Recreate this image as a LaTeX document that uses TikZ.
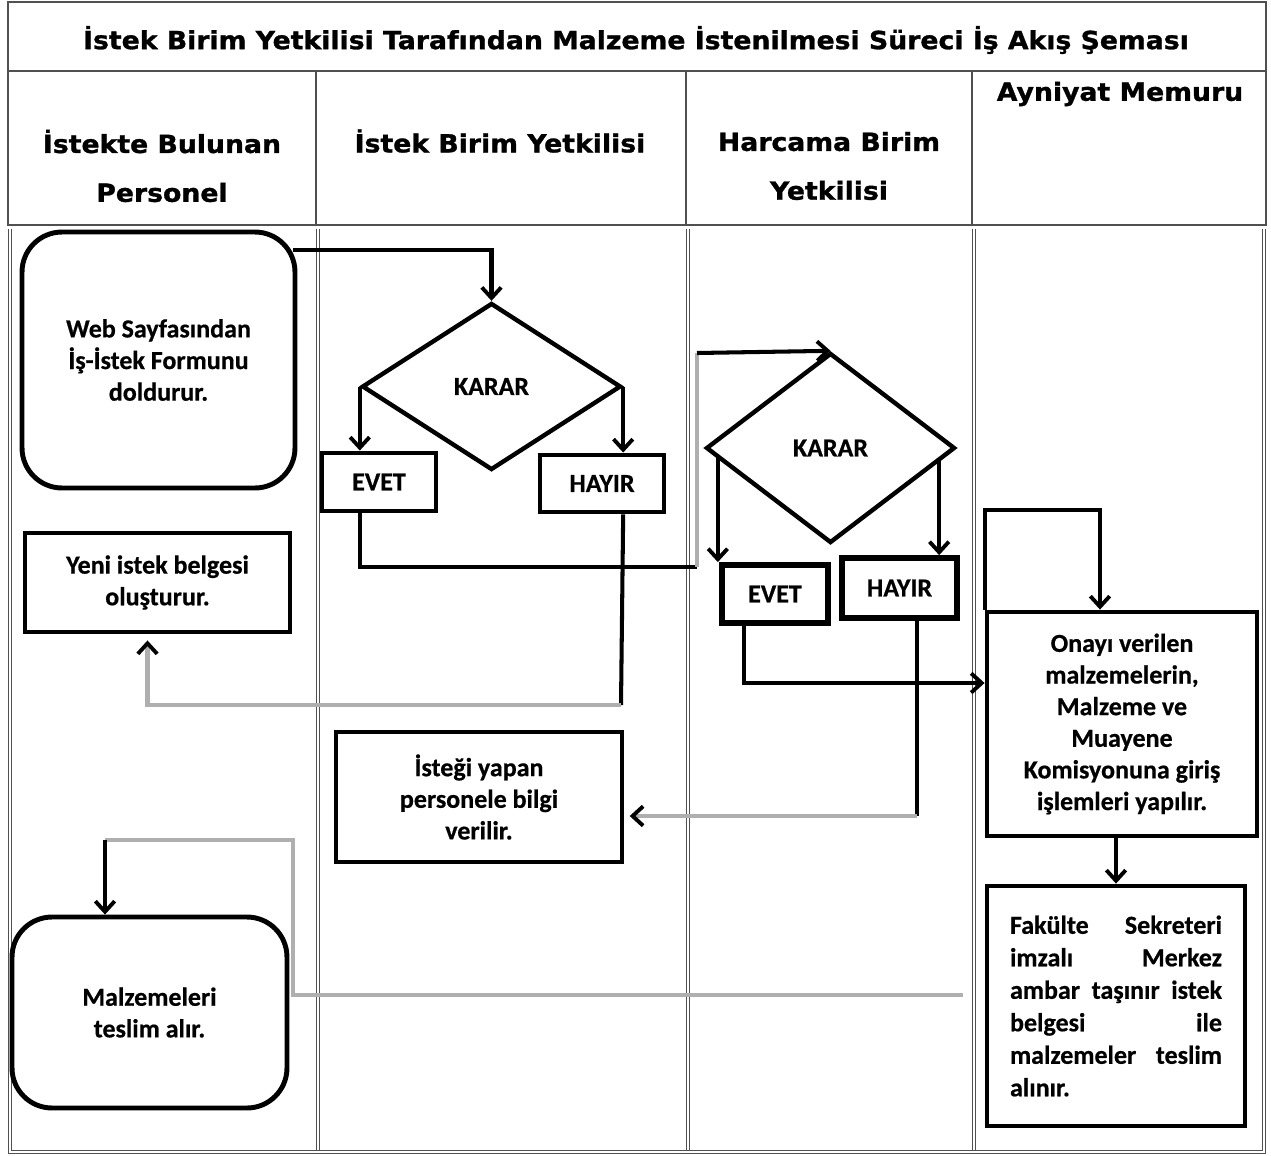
\documentclass[tikz,border=0pt]{standalone}
\usepackage{fontspec}
\usepackage{xcolor}
\usepackage{tikz}
\usetikzlibrary{shapes.geometric,arrows.meta}
\setmainfont{Carlito}
\newfontfamily\bodyfont{Carlito}[UprightFont=*-Bold, FakeBold=0.6]
\newfontfamily\headfont{DejaVu Sans Bold}[FakeStretch=1.07, FakeBold=1.2]
\definecolor{flowgray}{RGB}{175,175,175}
\definecolor{tablegray}{RGB}{80,80,80}

\tikzset{
  box/.style={draw, line width=2.8pt, align=center, inner sep=0pt,
    font=\bodyfont\fontsize{14.8}{18}\selectfont},
  roundbox/.style={box, rounded corners=0.8cm},
  karar/.style={box, diamond, line width=2.5pt},
  head/.style={align=center, font=\headfont\fontsize{14.2}{27.8}\selectfont},
  arr/.style={line width=2.3pt, -{Straight Barb[length=6pt,width=11pt,line width=2.2pt]}},
  blk/.style={line width=2.3pt},
  gry/.style={line width=2.3pt, flowgray},
  garr/.style={gry, -{Straight Barb[length=6pt,width=11pt,line width=2.2pt,black]}},
  lane/.style={tablegray, line width=0.4pt, double, double distance=1.6pt},
}

\begin{document}
\begin{tikzpicture}[x=0.02cm, y=-0.02cm]
\useasboundingbox (0,0) rectangle (1271,1156);

% Table frame
\draw[tablegray, line width=0.6pt] (8,2) rectangle (1266,225);
\draw[tablegray, line width=0.6pt] (8,71) -- (1266,71);
\foreach \x in {316,686,972}
  \draw[tablegray, line width=0.6pt] (\x,71) -- (\x,225);
\draw[lane] (10,229) -- (10,1152) -- (1264,1152) -- (1264,229);
\foreach \x in {318,688,974}
  \draw[lane] (\x,229) -- (\x,1150);

% Title and lane headers
\node[head] (title) at (636,40) {İstek Birim Yetkilisi Tarafından Malzeme İstenilmesi Süreci İş Akış Şeması};
\node[head] (lane1) at (162,166) {İstekte Bulunan\\Personel};
\node[head] (lane2) at (500,141) {İstek Birim Yetkilisi};
\node[head] (lane3) at (829,166) {Harcama Birim\\Yetkilisi};
\node[head] (lane4) at (1120,94) {Ayniyat Memuru};

% Steps
\node[roundbox, minimum width=5.46cm, minimum height=5.12cm] (web) at (158.5,360) {Web Sayfasından\\İş-İstek Formunu\\doldurur.};
\node[karar, minimum width=5.18cm, minimum height=3.34cm] (d1) at (491.5,386.5) {KARAR};
\node[box, minimum width=2.28cm, minimum height=1.16cm] (evet1) at (379,482) {EVET};
\node[box, minimum width=2.48cm, minimum height=1.14cm] (hayir1) at (602,483.5) {HAYIR};
\node[box, minimum width=5.3cm, minimum height=1.98cm] (yeni) at (157.5,582.5) {Yeni istek belgesi\\oluşturur.};
\node[karar, minimum width=4.98cm, minimum height=3.8cm] (d2) at (830.5,448) {KARAR};
\node[box, minimum width=2.12cm, minimum height=1.16cm, line width=3.3pt] (evet2) at (775,594) {EVET};
\node[box, minimum width=2.3cm, minimum height=1.2cm, line width=3.3pt] (hayir2) at (899.5,588) {HAYIR};
\node[box, minimum width=5.4cm, minimum height=4.48cm] (onay) at (1122,724) {Onayı verilen\\malzemelerin,\\Malzeme ve\\Muayene\\Komisyonuna giriş\\işlemleri yapılır.};
\node[box, minimum width=5.72cm, minimum height=2.6cm] (istegi) at (479,797) {İsteği yapan\\personele bilgi\\verilir.};
\node[roundbox, minimum width=5.5cm, minimum height=3.82cm] (malz) at (149.5,1012.5) {Malzemeleri\\teslim alır.};
\node[box, minimum width=5.16cm, minimum height=4.8cm, align=left, text width=4.24cm,
  font=\bodyfont\fontsize{14.8}{18.5}\selectfont] (fak) at (1116,1006)
  {Fakülte\hfill Sekreteri\\imzalı\hfill Merkez\\ambar\hfill taşınır\hfill istek\\belgesi\hfill ile\\malzemeler\hfill teslim\\alınır.};

% Turning points
\coordinate (c1) at (697,567);
\coordinate (c2) at (697,353);
\coordinate (c3) at (621,705);
\coordinate (c4) at (917,816);
\coordinate (c5) at (293,840);
\coordinate (c6) at (105,840);
\coordinate (e2) at ([shift={(14,10)}]d2.west);
\coordinate (h2) at ([shift={(-18,13)}]d2.east);

% Connectors
\draw[arr] ([shift={(-4,20)}]web.north east) -| (d1.north);
\draw[arr] (d1.west) -- (d1.west |- evet1.north);
\draw[arr] (d1.east) -- (d1.east |- hayir1.north);
\draw[blk] (evet1.south -| d1.west) |- (c1);
\draw[gry] (c1) -- (c2);
\draw[arr] (c2) -- (d2.north);
\draw[blk] (hayir1.south -| d1.east) -- (c3);
\draw[garr] (c3) -| ([shift={(-10,6)}]yeni.south);
\draw[arr] (e2) -- (e2 |- evet2.north);
\draw[arr] (h2) -- (h2 |- hayir2.north);
\draw[arr] ([shift={(-31,0)}]evet2.south) |- ([shift={(0,-41)}]onay.west);
\draw[blk] (c4 |- hayir2.south) -- (c4);
\draw[garr] (c4) -- ([xshift=3pt]c4 -| istegi.east);
\draw[arr] (onay.north west) -- ++(0,-100) -| ([shift={(-22,0)}]onay.north);
\draw[arr] (fak.north |- onay.south) -- (fak.north);
\draw[gry] ([shift={(-22,-11)}]fak.west) -| (c5) -- (c6);
\draw[arr] (c6) -- (c6 |- malz.north);
\end{tikzpicture}
\end{document}
